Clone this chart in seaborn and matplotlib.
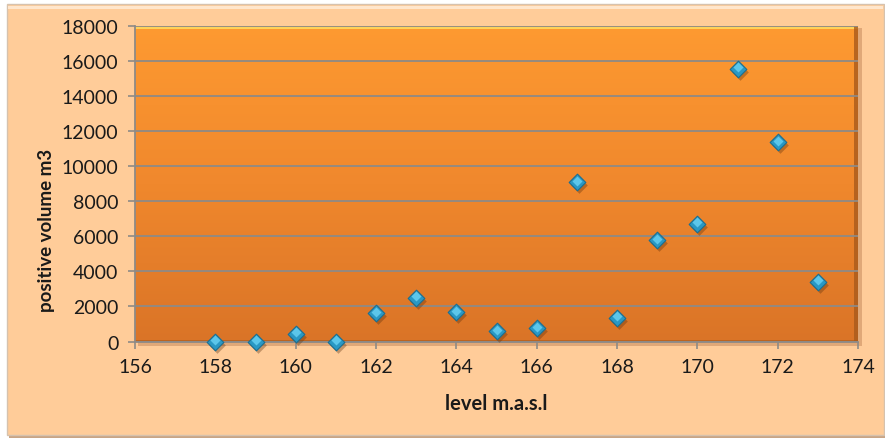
import numpy as np
import pandas as pd
import matplotlib
matplotlib.use("Agg")
import matplotlib.pyplot as plt
import seaborn as sns
from matplotlib.colors import LinearSegmentedColormap
from matplotlib.patches import Rectangle
from matplotlib.transforms import offset_copy

# Volume above each reservoir level
levels = [158, 159, 160, 161, 162, 163, 164, 165, 166, 167, 168, 169, 170, 171, 172, 173]
volumes = [0, 0, 450, 0, 1620, 2510, 1670, 590, 760, 9080, 1360, 5770, 6710, 15560, 11360, 3420]

x_ticks = [156, 158, 160, 162, 164, 166, 168, 170, 172, 174]
y_ticks = [0, 2000, 4000, 6000, 8000, 10000, 12000, 14000, 16000, 18000]

df = pd.DataFrame({"level": levels, "volume": volumes})

sns.set_style("white")
plt.rcParams["font.family"] = ["Lato", "DejaVu Sans"]

W, H = 885, 439
fig = plt.figure(figsize=(W / 100, H / 100), dpi=100)
fig.patch.set_facecolor("white")

def px_rect(x0, y0, x1, y1, **kw):
    return Rectangle((x0 / W, 1 - y1 / H), (x1 - x0) / W, (y1 - y0) / H,
                     transform=fig.transFigure, **kw)

# chart panel with a soft shadow
fig.patches.append(px_rect(9, 8, 885, 439, facecolor="#c9a585", edgecolor="none", zorder=0))
fig.patches.append(px_rect(7, 5, 884, 436, facecolor="#FFCC99", edgecolor="#d6c2ae",
                           linewidth=1.0, zorder=1))
fig.patches.append(px_rect(8, 7, 883, 10, facecolor="#FFE6CC", edgecolor="none", zorder=1))

# plot-area shadow
fig.patches.append(px_rect(138, 29, 862, 347, facecolor="#d9a070", edgecolor="none",
                           alpha=0.8, zorder=1))

left, right, top, bottom = 135, 858, 27, 342.5
ax = fig.add_axes([left / W, 1 - bottom / H, (right - left) / W, (bottom - top) / H])
ax.set_zorder(2)

# orange gradient fill of the plot area
cmap = LinearSegmentedColormap.from_list("plotfill", ["#DA7427", "#F0882D", "#FE9A31"])
grad = np.linspace(0, 1, 256).reshape(-1, 1)
ax.imshow(grad, extent=[0, 1, 0, 1], transform=ax.transAxes, aspect="auto",
          cmap=cmap, origin="lower", zorder=0.1)
ax.add_patch(Rectangle((0, 0.992), 1, 0.008, transform=ax.transAxes,
                       facecolor="#FFD25A", edgecolor="none", zorder=0.2))
ax.add_patch(Rectangle((0.995, 0), 0.005, 1, transform=ax.transAxes,
                       facecolor="#A85A1C", edgecolor="none", alpha=0.8, zorder=0.2))
ax.add_patch(Rectangle((0, 0), 1, 0.006, transform=ax.transAxes,
                       facecolor="#A85A1C", edgecolor="none", alpha=0.6, zorder=0.2))

ax.set_xlim(156, 174)
ax.set_ylim(0, 18000)
ax.set_xticks(x_ticks)
ax.set_yticks(y_ticks)
ax.set_axisbelow(True)
ax.grid(axis="y", color="#8E8A86", linewidth=1.3)
ax.grid(axis="x", visible=False)

for side in ["top", "right"]:
    ax.spines[side].set_visible(False)
for side in ["left", "bottom"]:
    ax.spines[side].set_color("#8E8A86")
    ax.spines[side].set_linewidth(1.3)

ax.tick_params(axis="both", which="major", direction="out", length=5, width=1.2,
               color="#8E8A86", labelsize=14, labelcolor="#1a1a1a")
ax.tick_params(axis="y", pad=7, left=True)
ax.tick_params(axis="x", pad=7, bottom=True)

# marker drop shadow
shadow_tr = offset_copy(ax.transData, fig=fig, x=2, y=-3, units="dots")
ax.scatter(df["level"], df["volume"], marker="D", s=72, color="#5a2e0c", alpha=0.35,
           linewidths=0, transform=shadow_tr, zorder=3, clip_on=False)

sns.scatterplot(data=df, x="level", y="volume", ax=ax, marker="D", s=72,
                color="#2A98C4", edgecolor="#1B6F92", linewidth=0.8, zorder=4,
                clip_on=False, legend=False)
# lighter upper facet of each marker
hl_tr = offset_copy(ax.transData, fig=fig, x=0, y=1.5, units="dots")
ax.scatter(df["level"], df["volume"], marker="D", s=26, color="#5CC6EA",
           linewidths=0, transform=hl_tr, zorder=5, clip_on=False)

ax.set_xlabel("")
ax.set_ylabel("")
fig.text(496 / W, 1 - 404 / H, "level m.a.s.l", ha="center", va="center",
         fontsize=14.5, fontweight="bold", color="#1a1a1a")
fig.text(47 / W, 1 - 230 / H, "positive volume m3", ha="center", va="center",
         rotation=90, fontsize=13.5, fontweight="bold", color="#1a1a1a")

fig.savefig("out.png", dpi=100, facecolor=fig.get_facecolor())
